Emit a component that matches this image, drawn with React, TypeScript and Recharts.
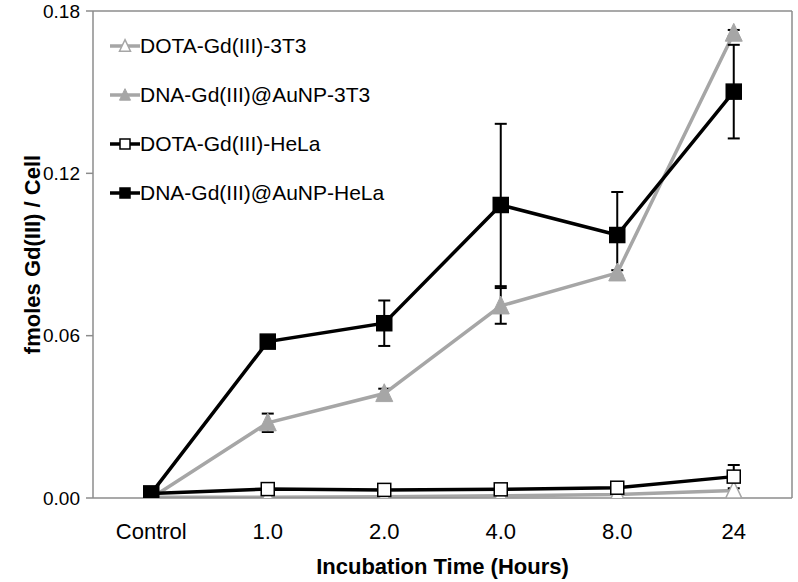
import React from 'react';
import { LineChart, Line, XAxis, YAxis, ErrorBar, ReferenceLine, Label } from 'recharts';

const categories = ['Control', '1.0', '2.0', '4.0', '8.0', '24'];
const yTicks = [0, 0.06, 0.12, 0.18];

const dota3T3 = [0.0003, 0.0003, 0.0005, 0.0008, 0.0013, 0.0028];
const dota3T3Err = [0, 0, 0, 0, 0, 0];
const dna3T3 = [0.0, 0.0278, 0.0386, 0.071, 0.0832, 0.1718];
const dna3T3Err = [0, 0.0034, 0.0018, 0.0066, 0.001, 0.0012];
const dotaHela = [0.0017, 0.0033, 0.003, 0.0032, 0.0038, 0.0079];
const dotaHelaErr = [0, 0.001, 0.0005, 0.001, 0.0005, 0.0043];
const dnaHela = [0.0017, 0.0578, 0.0646, 0.1083, 0.0972, 0.1502];
const dnaHelaErr = [0, 0.0004, 0.0084, 0.03, 0.0159, 0.0173];

const data = categories.map((c, i) => ({
  x: i,
  cat: c,
  dota3T3: dota3T3[i],
  dota3T3Err: dota3T3Err[i],
  dna3T3: dna3T3[i],
  dna3T3Err: dna3T3Err[i],
  dotaHela: dotaHela[i],
  dotaHelaErr: dotaHelaErr[i],
  dnaHela: dnaHela[i],
  dnaHelaErr: dnaHelaErr[i],
}));

const FONT = 'Arial, "Liberation Sans", sans-serif';
const GRAY = '#a6a6a6';
const AXIS = '#8c8c8c';

type Kind = 'triOpen' | 'triFill' | 'sqOpen' | 'sqFill';

function markerShape(kind: Kind, cx: number, cy: number, s: number, key?: string) {
  if (kind === 'triOpen' || kind === 'triFill') {
    const h = s * 1.05;
    const w = s;
    const d = `M${cx},${cy - h * 0.55} L${cx + w / 2},${cy + h * 0.45} L${cx - w / 2},${cy + h * 0.45} Z`;
    return (
      <path
        key={key}
        d={d}
        fill={kind === 'triFill' ? GRAY : '#fff'}
        stroke={GRAY}
        strokeWidth={kind === 'triFill' ? 1 : 1.5}
      />
    );
  }
  const half = s / 2;
  return (
    <rect
      key={key}
      x={cx - half}
      y={cy - half}
      width={s}
      height={s}
      fill={kind === 'sqFill' ? '#000' : '#fff'}
      stroke="#000"
      strokeWidth={1.5}
    />
  );
}

const makeDot = (kind: Kind, size: number) => (props: any) => {
  const { cx, cy, index } = props;
  if (cx == null || cy == null) return <g key={`e-${kind}-${index}`} />;
  return markerShape(kind, cx, cy, size, `d-${kind}-${index}`);
};

const series = [
  { key: 'dota3T3', err: 'dota3T3Err', name: 'DOTA-Gd(III)-3T3', color: GRAY, kind: 'triOpen' as Kind, size: 16 },
  { key: 'dna3T3', err: 'dna3T3Err', name: 'DNA-Gd(III)@AuNP-3T3', color: GRAY, kind: 'triFill' as Kind, size: 17 },
  { key: 'dotaHela', err: 'dotaHelaErr', name: 'DOTA-Gd(III)-HeLa', color: '#000', kind: 'sqOpen' as Kind, size: 13 },
  { key: 'dnaHela', err: 'dnaHelaErr', name: 'DNA-Gd(III)@AuNP-HeLa', color: '#000', kind: 'sqFill' as Kind, size: 15 },
];

const legendRowCenters = [46, 95, 144, 193];

export default function App() {
  return (
    <div style={{ position: 'absolute', left: 0, top: 0, width: 798, height: 582, background: '#fff' }}>
      <LineChart
        width={798}
        height={582}
        data={data}
        margin={{ top: 11, right: 6, left: 0, bottom: 0 }}
        style={{ fontFamily: FONT }}
      >
        <XAxis
          xAxisId="grid"
          type="number"
          dataKey="x"
          domain={[-0.5, 5.5]}
          ticks={[-0.5, 0.5, 1.5, 2.5, 3.5, 4.5, 5.5]}
          tickFormatter={() => ''}
          tickSize={6}
          tickLine={{ stroke: AXIS, strokeWidth: 1.5 }}
          axisLine={false}
          height={0}
          allowDataOverflow
        />
        <XAxis
          xAxisId="main"
          type="number"
          dataKey="x"
          domain={[-0.5, 5.5]}
          ticks={[0, 1, 2, 3, 4, 5]}
          interval={0}
          tickFormatter={(v: number) => categories[v]}
          tickLine={false}
          tickSize={8}
          tickMargin={17}
          axisLine={{ stroke: AXIS, strokeWidth: 1.5 }}
          tick={{ fontSize: 22, fill: '#000', fontFamily: FONT }}
          height={84}
          allowDataOverflow
        >
          <Label
            value="Incubation Time (Hours)"
            position="insideBottom"
            offset={8}
            style={{ fontSize: 22, fontWeight: 'bold', fill: '#000', fontFamily: FONT }}
          />
        </XAxis>
        <YAxis
          domain={[0, 0.18]}
          ticks={yTicks}
          interval={0}
          tickFormatter={(v: number) => v.toFixed(2)}
          tickSize={7}
          tickMargin={6}
          width={93}
          tick={{ fontSize: 19, fill: '#000', fontFamily: FONT }}
          tickLine={{ stroke: AXIS, strokeWidth: 1.5 }}
          axisLine={{ stroke: AXIS, strokeWidth: 1.5 }}
          allowDataOverflow
        >
          <Label
            content={(p: any) => {
              const vb = p.viewBox || { x: 0, y: 11, width: 93, height: 487 };
              const cx = vb.x + 32;
              const cy = vb.y + vb.height / 2;
              return (
                <text
                  x={cx}
                  y={cy}
                  transform={`rotate(-90 ${cx} ${cy})`}
                  textAnchor="middle"
                  dominantBaseline="central"
                  style={{ fontSize: 22, fontWeight: 'bold', fill: '#000', fontFamily: FONT }}
                >
                  fmoles Gd(III) / Cell
                </text>
              );
            }}
          />
        </YAxis>
        <ReferenceLine xAxisId="main" y={0.18} stroke={AXIS} strokeWidth={1.5} ifOverflow="visible" />
        <ReferenceLine xAxisId="main" x={5.5} stroke={AXIS} strokeWidth={1.5} ifOverflow="visible" />
        {series.map((s) => (
          <Line
            key={s.key}
            xAxisId="main"
            type="linear"
            dataKey={s.key}
            name={s.name}
            stroke={s.color}
            strokeWidth={3.5}
            dot={makeDot(s.kind, s.size)}
            activeDot={false}
            isAnimationActive={false}
          >
            <ErrorBar dataKey={s.err} direction="y" width={6} stroke="#000" strokeWidth={2} />
          </Line>
        ))}
      </LineChart>
      {series.map((s, i) => (
        <div
          key={s.key}
          style={{
            position: 'absolute',
            left: 110,
            top: legendRowCenters[i] - 13,
            height: 26,
            display: 'flex',
            alignItems: 'center',
            fontFamily: FONT,
            fontSize: 21,
            color: '#000',
            whiteSpace: 'nowrap',
          }}
        >
          <svg width={30} height={26} style={{ display: 'block' }}>
            <line x1={0} y1={13} x2={30} y2={13} stroke={s.color} strokeWidth={3.5} />
            {markerShape(s.kind, 15, 13, s.kind.startsWith('tri') ? 11 : 10)}
          </svg>
          <span>{s.name}</span>
        </div>
      ))}
    </div>
  );
}
